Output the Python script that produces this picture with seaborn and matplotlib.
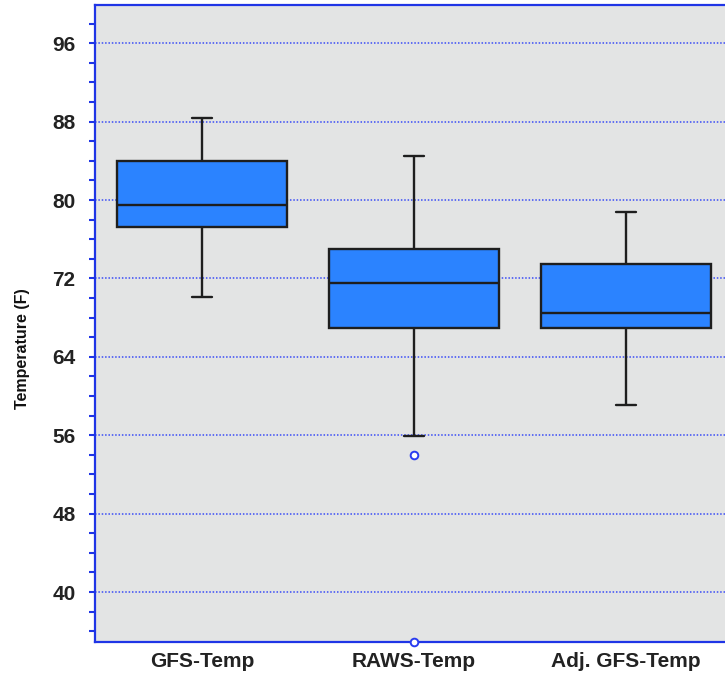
import numpy as np
import pandas as pd
import matplotlib
matplotlib.use("Agg")
import matplotlib.pyplot as plt
import seaborn as sns
from matplotlib.ticker import MultipleLocator

# ---- data ----
categories = ["GFS-Temp", "RAWS-Temp", "Adj. GFS-Temp"]
whisker_low = [70.1, 55.9, 59.1]
q1 = [77.2, 66.9, 66.9]
median = [79.5, 71.5, 68.5]
q3 = [84.0, 75.0, 73.5]
whisker_high = [88.4, 84.5, 78.8]
outliers = [[], [54.0, 34.9], []]
y_ticks = [40, 48, 56, 64, 72, 80, 88, 96]

# build minimal samples reproducing these five-number summaries
rows = []
for cat, lo, a, m, b, hi, fl in zip(categories, whisker_low, q1, median, q3, whisker_high, outliers):
    vals = [lo, a, a, m, m, m, b, b, hi]
    if fl:
        # 13 values: quartile positions at 3, 6, 9
        vals = list(fl) + [lo, a, a, m, m, m, b, b, b, hi, hi]
    for v in vals:
        rows.append({"Series": cat, "Temperature": v})
df = pd.DataFrame(rows)

sns.set_theme(style="white")
plt.rcParams["font.family"] = ["Liberation Sans", "DejaVu Sans"]

fig = plt.figure(figsize=(7.25, 6.78), dpi=100)
ax = fig.add_axes([95 / 725, 36 / 678, 630 / 725, 637 / 678])
ax.set_facecolor("#e3e4e4")

blue = "#2b83ff"
edge = "#1e1e1e"
sns.boxplot(
    data=df, x="Series", y="Temperature", order=categories, ax=ax,
    color=blue, saturation=1, width=0.8, whis=1.5,
    linewidth=1.7, linecolor=edge,
    capwidths=0.094,
    boxprops=dict(facecolor=blue, edgecolor=edge),
    flierprops=dict(marker="o", markersize=5.5, markerfacecolor="white",
                    markeredgecolor="#2a3cf0", markeredgewidth=1.4),
)
for ln in ax.lines:
    ln.set_clip_on(False)
    ln.set_zorder(5)

ax.set_ylim(34.9, 99.9)
ax.set_xlim(-0.505, 2.467)
ax.yaxis.set_major_locator(plt.FixedLocator(y_ticks))
ax.yaxis.set_minor_locator(MultipleLocator(2))
ax.grid(axis="y", which="major", color="#3a4cf5", linestyle=(0, (1, 1.2)), linewidth=1.1)
ax.set_axisbelow(True)

spine_color = "#1f35e6"
for s in ["left", "top", "bottom"]:
    ax.spines[s].set_visible(True)
    ax.spines[s].set_color(spine_color)
    ax.spines[s].set_linewidth(1.6)
ax.spines["right"].set_visible(False)

ax.tick_params(axis="y", which="both", direction="out", colors=spine_color,
               length=4, width=1.5, pad=10, labelcolor="#222222",
               labelsize=15, left=True)
ax.tick_params(axis="x", length=0, pad=7, labelcolor="#222222", labelsize=15)
for lab in ax.get_yticklabels() + ax.get_xticklabels():
    lab.set_fontweight("bold")

ax.set_xlabel("")
ax.set_ylabel("Temperature (F)", fontsize=11.5, fontweight="bold", color="#111111")
ax.yaxis.set_label_coords(-0.103, 0.46)

fig.savefig("out.png", dpi=100)
